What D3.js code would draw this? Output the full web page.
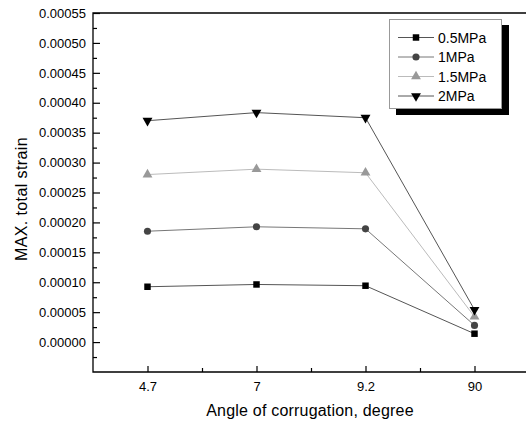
<!DOCTYPE html>
<html>
<head>
<meta charset="utf-8">
<script src="https://cdn.jsdelivr.net/npm/d3@7"></script>
<style>
  body { margin: 0; background: #fff; }
  svg { font-family: "Liberation Sans", Arial, sans-serif; }
</style>
</head>
<body>
<div id="chart"></div>
<script>
// data
var angles = ["4.7", "7", "9.2", "90"];
var seriesNames = ["0.5MPa", "1MPa", "1.5MPa", "2MPa"];
var strain05 = [0.0000925, 0.0000963, 0.0000942, 0.000014];
var strain1 = [0.0001853, 0.0001927, 0.0001893, 0.0000279];
var strain15 = [0.000280, 0.000289, 0.000283, 0.0000424];
var strain2 = [0.000370, 0.0003835, 0.000375, 0.000054];
var yTicks = [0, 0.00005, 0.0001, 0.00015, 0.0002, 0.00025, 0.0003, 0.00035, 0.0004, 0.00045, 0.0005, 0.00055];

var width = 526, height = 424;
// plot frame (right edge runs past the window, as in the reference)
var plotL = 93, plotT = 13, plotB = 372, plotR = 529;

var svg = d3.select("#chart").append("svg")
  .attr("width", width)
  .attr("height", height);

// scales
var x = d3.scaleLinear().domain([-0.5, 3.5]).range([plotL, plotR]);
var y = d3.scaleLinear().domain([-0.00005, 0.00055]).range([plotB, plotT]);

// minor ticks (no labels)
svg.append("g")
  .attr("transform", "translate(0," + plotB + ")")
  .call(d3.axisBottom(x).tickValues([0.5, 1.5, 2.5]).tickSize(-4).tickFormat(""));

svg.append("g")
  .attr("transform", "translate(" + plotL + ",0)")
  .call(d3.axisLeft(y).tickValues(yTicks.map(function(v) { return v - 0.000025; })).tickSize(-4).tickFormat(""));

// major axes
svg.append("g")
  .attr("transform", "translate(0," + plotB + ")")
  .call(d3.axisBottom(x).tickValues([0, 1, 2, 3])
    .tickSize(-6).tickPadding(10)
    .tickFormat(function(i) { return angles[i]; }));

svg.append("g")
  .attr("transform", "translate(" + plotL + ",0)")
  .call(d3.axisLeft(y).tickValues(yTicks)
    .tickSize(-7).tickPadding(7)
    .tickFormat(d3.format(".5f")));

svg.selectAll(".tick text").style("font-size", "13px").attr("fill", "#000");
svg.selectAll(".domain").remove();
svg.selectAll(".tick line").attr("stroke", "#000").attr("stroke-width", 1.2);

// frame
svg.append("path")
  .attr("d", "M" + plotR + "," + plotT + "H" + plotL + "V" + plotB + "H" + plotR)
  .attr("fill", "none")
  .attr("stroke", "#000")
  .attr("stroke-width", 1.3);

// axis titles
svg.append("text")
  .text("Angle of corrugation, degree")
  .attr("x", 310)
  .attr("y", 416)
  .attr("text-anchor", "middle")
  .style("font-size", "16px")
  .style("letter-spacing", "0.2px");

svg.append("text")
  .text("MAX. total strain")
  .attr("transform", "translate(27,199) rotate(-90)")
  .attr("text-anchor", "middle")
  .style("font-size", "16px")
  .style("letter-spacing", "0.4px");

// series
var series = [
  { name: seriesNames[0], values: strain05, line: "#555", fill: "#000", symbol: d3.symbolSquare, size: 42, rot: 0 },
  { name: seriesNames[1], values: strain1, line: "#777", fill: "#444", symbol: d3.symbolCircle, size: 40, rot: 0 },
  { name: seriesNames[2], values: strain15, line: "#bbb", fill: "#999", symbol: d3.symbolTriangle, size: 42, rot: 0 },
  { name: seriesNames[3], values: strain2, line: "#555", fill: "#000", symbol: d3.symbolTriangle, size: 42, rot: 180 }
];

var line = d3.line()
  .x(function(d, i) { return x(i); })
  .y(function(d) { return y(d); });

series.forEach(function(s) {
  svg.append("path")
    .datum(s.values)
    .attr("d", line)
    .attr("fill", "none")
    .attr("stroke", s.line)
    .attr("stroke-width", 1);
});

series.forEach(function(s) {
  svg.selectAll(null)
    .data(s.values)
    .enter().append("path")
    .attr("d", d3.symbol().type(s.symbol).size(s.size))
    .attr("transform", function(d, i) {
      return "translate(" + x(i) + "," + y(d) + ") rotate(" + s.rot + ")";
    })
    .attr("fill", s.fill);
});

// legend
var legend = svg.append("g");
legend.append("rect")
  .attr("x", 396).attr("y", 25).attr("width", 113).attr("height", 90)
  .attr("fill", "#000");
legend.append("rect")
  .attr("x", 389.5).attr("y", 19.5).attr("width", 112).attr("height", 89)
  .attr("fill", "#fff").attr("stroke", "#999").attr("stroke-width", 1);

series.forEach(function(s, i) {
  var ly = 37.5 + i * 19.5;
  legend.append("line")
    .attr("x1", 398).attr("x2", 434).attr("y1", ly).attr("y2", ly)
    .attr("stroke", s.line).attr("stroke-width", 1);
  legend.append("path")
    .attr("d", d3.symbol().type(s.symbol).size(s.size))
    .attr("transform", "translate(416," + ly + ") rotate(" + s.rot + ")")
    .attr("fill", s.fill);
  legend.append("text")
    .text(s.name)
    .attr("x", 438)
    .attr("y", ly)
    .attr("dy", "0.36em")
    .style("font-size", "14px");
});
</script>
</body>
</html>
